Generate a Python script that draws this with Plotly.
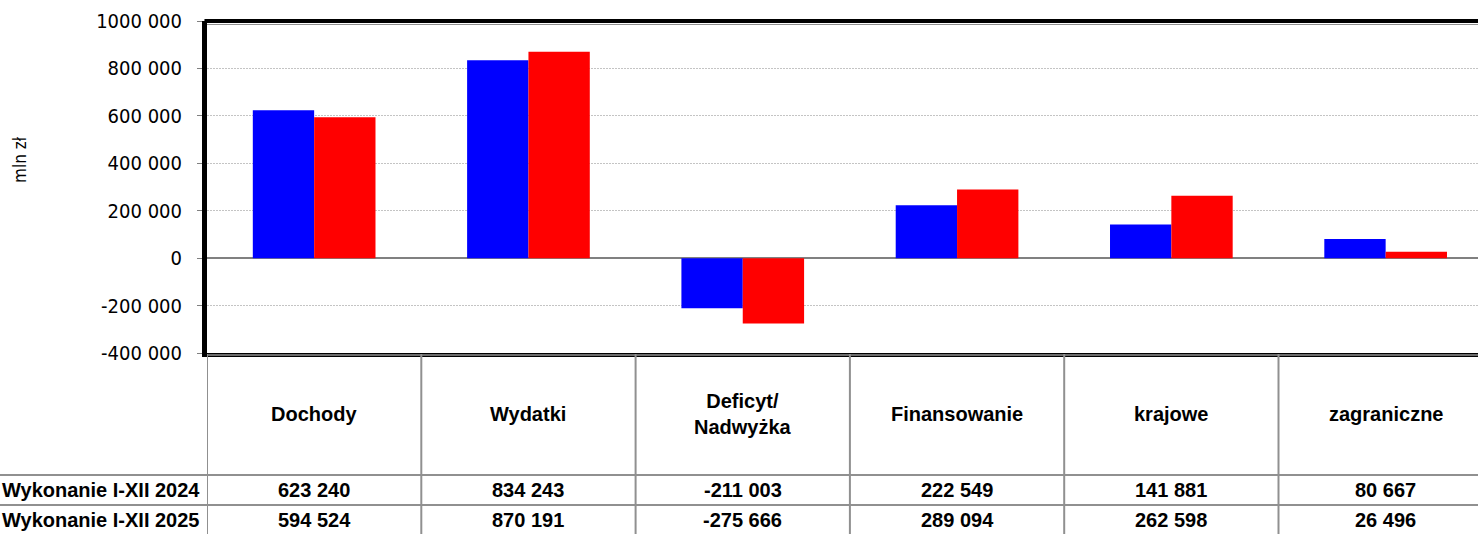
import plotly.graph_objects as go

categories = ["Dochody", "Wydatki", "Deficyt/<br>Nadwyżka", "Finansowanie", "krajowe", "zagraniczne"]
series_names = ["Wykonanie I-XII 2024", "Wykonanie I-XII 2025"]
values_2024 = [623240, 834243, -211003, 222549, 141881, 80667]
values_2025 = [594524, 870191, -275666, 289094, 262598, 26496]
colors = ["#0000FF", "#FF0000"]
y_ticks = [-400000, -200000, 0, 200000, 400000, 600000, 800000, 1000000]
y_tick_labels = ["-400 000", "-200 000", "0", "200 000", "400 000", "600 000", "800 000", "1000 000"]

W, H = 1478, 534
L, R, T, B = 207, 0, 21, 181
plot_w = W - L - R
plot_h = H - T - B
cat_px = 214.3
x_idx = list(range(len(categories)))


def fmt(v):
    s = f"{abs(v):,}".replace(",", " ")
    return ("-" if v < 0 else "") + s


def py(pix):  # pixel y -> paper y
    return (T + plot_h - pix) / plot_h


def px(pix):  # pixel x -> paper x
    return (pix - L) / plot_w


fig = go.Figure()
for name, vals, col in zip(series_names, [values_2024, values_2025], colors):
    fig.add_trace(go.Bar(x=x_idx, y=vals, name=name, marker=dict(color=col, line=dict(width=0))))

fig.update_layout(
    width=W, height=H,
    margin=dict(l=L, r=R, t=T, b=B, pad=0),
    paper_bgcolor="white", plot_bgcolor="white",
    barmode="group", bargap=0.4275, bargroupgap=0,
    showlegend=False,
    font=dict(family="Liberation Sans, Arial", color="black"),
)
fig.update_xaxes(
    range=[-0.5, -0.5 + plot_w / cat_px],
    showticklabels=False, ticks="", showgrid=False, zeroline=False,
    showline=True, linecolor="black", linewidth=4,
)
fig.update_yaxes(
    range=[-400000, 1000000],
    tickvals=y_ticks, ticktext=y_tick_labels,
    tickfont=dict(family="DejaVu Sans Condensed, DejaVu Sans", size=20, color="black"),
    ticks="outside", ticklen=5, tickcolor="#808080", tickwidth=1,
    ticklabelstandoff=11,
    showgrid=True, gridcolor="#c4c4c4", griddash="2px,1px", gridwidth=1,
    zeroline=True, zerolinecolor="#808080", zerolinewidth=2,
    showline=True, linecolor="black", linewidth=5,
)

shapes = []
# top border
shapes.append(dict(type="line", xref="paper", yref="paper", x0=-0.002, x1=1.02, y0=1.0, y1=1.0,
                   line=dict(color="black", width=4)))
shapes.append(dict(type="line", xref="paper", yref="paper", x0=0, x1=1.02, y0=py(24.5), y1=py(24.5),
                   line=dict(color="#909090", width=1)))
# gray line under bottom axis
shapes.append(dict(type="line", xref="paper", yref="paper", x0=0, x1=1.02, y0=py(355), y1=py(355),
                   line=dict(color="#909090", width=1.5)))
# table horizontal lines
for yy in [475, 505]:
    shapes.append(dict(type="line", xref="paper", yref="paper", x0=px(0), x1=1.02, y0=py(yy), y1=py(yy),
                       line=dict(color="#909090", width=2)))
# table vertical lines at category boundaries
for i in range(len(categories) + 1):
    shapes.append(dict(type="line", xref="x", yref="paper", x0=i - 0.5, x1=i - 0.5, y0=py(354), y1=py(540),
                       line=dict(color="#909090", width=2)))
fig.update_layout(shapes=shapes)

ann = []
tfont = dict(family="Liberation Sans, Arial", size=20, color="black", weight="bold")
for i, c in enumerate(categories):
    ann.append(dict(x=i, y=py(414), xref="x", yref="paper", text=c, showarrow=False,
                    xanchor="center", yanchor="middle", font=tfont))
    ann.append(dict(x=i, y=py(490), xref="x", yref="paper", text=fmt(values_2024[i]), showarrow=False,
                    xanchor="center", yanchor="middle", font=tfont))
    ann.append(dict(x=i, y=py(520), xref="x", yref="paper", text=fmt(values_2025[i]), showarrow=False,
                    xanchor="center", yanchor="middle", font=tfont))
for name, yy in zip(series_names, [490, 520]):
    ann.append(dict(x=px(0), y=py(yy), xref="paper", yref="paper", text=name, showarrow=False,
                    xanchor="left", yanchor="middle", font=tfont))
ann.append(dict(x=px(20), y=py(160), xref="paper", yref="paper", text="mln zł", showarrow=False,
                textangle=-90, xanchor="center", yanchor="middle",
                font=dict(family="DejaVu Sans Condensed, DejaVu Sans", size=17, color="black")))
fig.update_layout(annotations=ann)

fig.write_html(
    "out.html",
    config={"displayModeBar": False},
    post_script="document.body.style.margin='0';document.body.style.overflow='hidden';",
)
